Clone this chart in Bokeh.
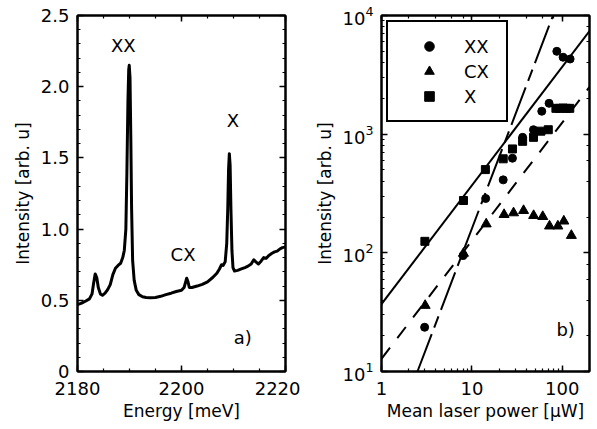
from bokeh.plotting import figure
from bokeh.models import (LinearAxis, LogAxis, SingleIntervalTicker, LogTicker, Label,
                          Legend, LegendItem, BasicTickFormatter, CustomJSTickFormatter)
from bokeh.layouts import row
from bokeh.embed import file_html
from bokeh.resources import INLINE

# ---------------- panel a) : PL spectrum ----------------
energy_meV = [2180.0, 2180.8, 2181.6, 2182.3, 2182.8, 2183.1, 2183.4, 2183.7, 2184.0, 2184.4,
              2184.8, 2185.3, 2185.8, 2186.3, 2186.8, 2187.3, 2187.8, 2188.3, 2188.7, 2189.0,
              2189.3, 2189.5, 2189.7, 2189.85, 2189.95, 2190.1, 2190.25, 2190.4, 2190.6, 2190.9,
              2191.3, 2191.8, 2192.5, 2193.2, 2194.0, 2195.0, 2196.0, 2197.0, 2198.0, 2199.0,
              2200.0, 2200.5, 2200.8, 2201.0, 2201.25, 2201.5, 2202.0, 2203.0, 2204.0, 2205.0,
              2206.0, 2206.8, 2207.3, 2207.7, 2208.0, 2208.4, 2208.7, 2208.9, 2209.05, 2209.2,
              2209.35, 2209.5, 2209.7, 2209.9, 2210.2, 2210.8, 2211.5, 2212.2, 2212.8, 2213.4,
              2213.9, 2214.3, 2214.8, 2215.3, 2215.8, 2216.3, 2216.8, 2217.4, 2217.9, 2218.4,
              2218.9, 2219.4, 2220.0]
intensity_au = [0.470, 0.480, 0.495, 0.510, 0.545, 0.620, 0.685, 0.660, 0.590, 0.545,
                0.535, 0.550, 0.575, 0.610, 0.680, 0.725, 0.745, 0.760, 0.800, 0.850,
                1.000, 1.400, 1.900, 2.120, 2.150, 2.060, 1.650, 1.150, 0.780, 0.640,
                0.570, 0.540, 0.525, 0.520, 0.518, 0.520, 0.528, 0.540, 0.550, 0.562,
                0.570, 0.590, 0.630, 0.655, 0.630, 0.590, 0.590, 0.600, 0.612, 0.630,
                0.660, 0.690, 0.720, 0.750, 0.745, 0.770, 0.900, 1.150, 1.420, 1.530,
                1.450, 1.150, 0.850, 0.730, 0.705, 0.710, 0.720, 0.730, 0.740, 0.755,
                0.785, 0.770, 0.755, 0.775, 0.800, 0.795, 0.815, 0.830, 0.840, 0.845,
                0.860, 0.870, 0.875]
y_tick_labels_a = {0: "0", 0.5: "0.5", 1: "1.0", 1.5: "1.5", 2: "2.0", 2.5: "2.5"}

# ---------------- panel b) : power dependence ----------------
xx_power = [3.0, 8.0, 14.2, 22.2, 28.1, 36.4, 48.0, 59.3, 71.4, 87.0, 102.0, 122.0]
xx_int = [23.6, 95, 287, 412, 627, 940, 1090, 1560, 1820, 4990, 4450, 4300]

cx_power = [3.04, 8.07, 14.4, 22.7, 28.9, 37.3, 48.2, 60.8, 72.2, 89.3, 104.0, 126.0]
cx_int = [36, 99, 175, 210, 217, 227, 206, 202, 168, 168, 185, 140]

x_power = [3.02, 8.07, 14.1, 22.2, 28.1, 36.4, 48.0, 58.0, 70.0, 85.0, 93.0, 102.0, 111.0, 121.0]
x_int = [125, 276, 503, 620, 751, 870, 940, 1060, 1090, 1650, 1650, 1660, 1650, 1650]

# power-law guide lines (end points)
fit_lin_x = [1, 200]
fit_lin_y = [37, 7400]
fit_lin2_x = [1, 200]
fit_lin2_y = [12.8, 2500]
fit_quad_x = [2.5, 79]
fit_quad_y = [10, 10000]

FONT = "DejaVu Sans"
TICK_SIZE = "18px"
LABEL_SIZE = "17px"


def style_axis(ax, show_labels=True):
    ax.major_tick_in = 6
    ax.major_tick_out = 0
    ax.minor_tick_in = 3
    ax.minor_tick_out = 0
    ax.axis_line_width = 2
    ax.axis_line_color = "black"
    ax.major_tick_line_width = 1.5
    ax.minor_tick_line_width = 1.2
    ax.major_tick_line_color = "black"
    ax.minor_tick_line_color = "black"
    ax.major_label_text_font = FONT
    ax.major_label_text_color = "black"
    ax.axis_label_text_font = FONT
    ax.axis_label_text_font_style = "normal"
    ax.axis_label_text_font_size = LABEL_SIZE
    ax.axis_label_text_color = "black"
    if show_labels:
        ax.major_label_text_font_size = TICK_SIZE
        ax.major_label_standoff = 8
    else:
        ax.formatter = CustomJSTickFormatter(code="return ''")
        ax.major_label_text_font_size = "1px"
        ax.major_label_standoff = 0


# ---------- figure a ----------
p1 = figure(width=300, height=429, x_range=(2180, 2220), y_range=(0, 2.5),
            output_backend="svg", toolbar_location=None,
            min_border_left=77, min_border_right=15, min_border_top=15, min_border_bottom=58)
p1.grid.visible = False
p1.outline_line_color = "black"
p1.outline_line_width = 2

p1.xaxis.ticker = SingleIntervalTicker(interval=20, num_minor_ticks=4)
p1.yaxis.ticker = SingleIntervalTicker(interval=0.5, num_minor_ticks=5)
p1.yaxis.major_label_overrides = y_tick_labels_a
p1.xaxis.axis_label = "Energy [meV]"
p1.yaxis.axis_label = "Intensity [arb. u]"
style_axis(p1.xaxis[0])
style_axis(p1.yaxis[0])
p1.xaxis.major_label_standoff = 10
p1.xaxis.axis_label_standoff = 3
p1.yaxis.axis_label_standoff = 5

ax_r = LinearAxis(ticker=SingleIntervalTicker(interval=0.5, num_minor_ticks=5))
style_axis(ax_r, False)
p1.add_layout(ax_r, "right")
ax_t = LinearAxis(ticker=SingleIntervalTicker(interval=20, num_minor_ticks=4))
style_axis(ax_t, False)
p1.add_layout(ax_t, "above")

p1.line(energy_meV, intensity_au, line_color="black", line_width=3, line_join="round")

for txt, xx, yy in [("XX", 2188.8, 2.29), ("X", 2209.9, 1.76), ("CX", 2200.3, 0.82),
                    ("a)", 2211.8, 0.24)]:
    p1.add_layout(Label(x=xx, y=yy, text=txt, text_align="center", text_baseline="middle",
                        text_font=FONT, text_font_size="18px", text_color="black"))

# ---------- figure b ----------
p2 = figure(width=297, height=429, x_axis_type="log", y_axis_type="log",
            x_range=(1, 200), y_range=(10, 1e4),
            output_backend="svg", toolbar_location=None,
            min_border_left=81, min_border_right=8, min_border_top=15, min_border_bottom=58)
p2.grid.visible = False
p2.outline_line_color = "black"
p2.outline_line_width = 2

p2.xaxis.formatter = BasicTickFormatter()
p2.xaxis.axis_label = "Mean laser power [\u03bcW]"
p2.yaxis.axis_label = "Intensity [arb. u]"
style_axis(p2.xaxis[0])
style_axis(p2.yaxis[0])
p2.xaxis.major_label_standoff = 10
p2.xaxis.axis_label_standoff = 3
p2.yaxis.axis_label_standoff = 5

ax_r2 = LogAxis(ticker=LogTicker())
style_axis(ax_r2, False)
p2.add_layout(ax_r2, "right")
ax_t2 = LogAxis(ticker=LogTicker())
style_axis(ax_t2, False)
p2.add_layout(ax_t2, "above")

p2.line(fit_lin_x, fit_lin_y, line_color="black", line_width=2)
p2.line(fit_lin2_x, fit_lin2_y, line_color="black", line_width=2, line_dash="14 12")
p2.line(fit_quad_x, fit_quad_y, line_color="black", line_width=2, line_dash="40 7 12 7")

r_xx = p2.scatter(xx_power, xx_int, marker="circle", size=8, color="black")
r_cx = p2.scatter(cx_power, cx_int, marker="triangle", size=10, color="black")
r_x = p2.scatter(x_power, x_int, marker="square", size=8, color="black")

p2.add_layout(Label(x=109, y=22.6, text="b)", text_align="center", text_baseline="middle",
                    text_font=FONT, text_font_size="18px", text_color="black"))

legend = Legend(items=[LegendItem(label="XX", renderers=[r_xx]),
                       LegendItem(label="CX", renderers=[r_cx]),
                       LegendItem(label="X", renderers=[r_x])],
                location="top_left", margin=5, padding=12, spacing=1,
                glyph_width=58, glyph_height=24, label_height=24, label_width=30,
                label_standoff=6, label_text_font=FONT, label_text_font_size="18px",
                label_text_color="black", border_line_color="black", border_line_width=2,
                border_line_alpha=1.0,
                background_fill_color="white", background_fill_alpha=1.0)
p2.add_layout(legend)

layout = row(p1, p2)
open("out.html", "w").write(file_html(layout, INLINE))
